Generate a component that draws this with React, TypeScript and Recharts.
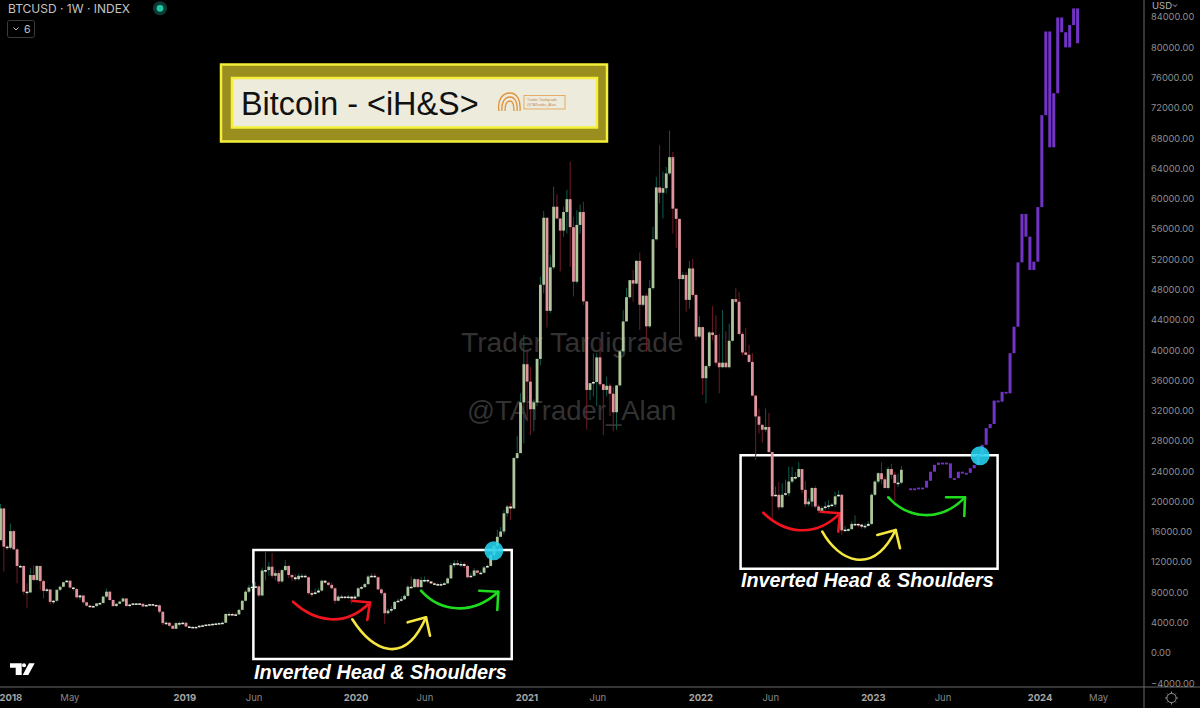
import React from 'react';
import { ComposedChart, Bar, XAxis, YAxis, ReferenceArea, ReferenceDot } from 'recharts';

// weekly candles, BTCUSD from Jan 2018. open = previous close
const closes = [
  19100, 14050, 13900, 16100, 13700, 11500, 11500, 8100, 8000, 10300,
  9650, 11500, 9500, 8200, 8400, 6750, 6900, 8350, 8750, 9350,
  9550, 8650, 8450, 7350, 7600, 6700, 6250, 6150, 6200, 6550,
  6600, 7450, 8100, 7000, 6200, 6500, 6800, 7200, 6200, 6400,
  6550, 6550, 6500, 6150, 6350, 6450, 6350, 6300, 5450, 3950,
  4000, 3600, 3200, 3950, 3950, 4000, 3500, 3450, 3450, 3400,
  3600, 3650, 3750, 3800, 3850, 3900, 3950, 4000, 5150, 5150,
  5100, 5100, 5700, 6900, 8100, 8650, 8750, 8800, 7600, 10900,
  10950, 11400, 10200, 10550, 9450, 10950, 11500, 10300, 10000, 9750,
  10200, 10200, 10000, 7900, 7800, 8000, 8250, 9550, 9300, 9000,
  8550, 6900, 7450, 7450, 7350, 7450, 7200, 7450, 8550, 8700,
  9100, 10100, 10200, 10000, 8400, 7900, 5250, 5600, 5800, 6750,
  6900, 7100, 7550, 8750, 8700, 9750, 8700, 9650, 9650, 9450,
  9200, 9100, 9000, 9100, 9200, 9850, 11600, 11850, 11750, 11750,
  11500, 10000, 10200, 10900, 10600, 10600, 11300, 11500, 12950, 14150,
  15350, 16050, 18450, 19350, 19100, 25750, 26400, 33100, 38150, 35850,
  32200, 33100, 38850, 48650, 57500, 45200, 50950, 58950, 57400, 55800,
  58250, 59950, 56250, 49050, 56550, 58250, 46450, 34750, 35650, 35800,
  39050, 35500, 34750, 35300, 34250, 31800, 35350, 39850, 43800, 47000,
  49250, 48800, 51800, 46000, 47200, 43150, 48200, 54650, 61500, 60800,
  61400, 63350, 65500, 58700, 57350, 49400, 49950, 46650, 50800, 47300,
  41800, 43050, 36300, 37900, 42350, 42000, 38350, 37750, 38350, 37750,
  41250, 46750, 46400, 42150, 39700, 39400, 38450, 34000, 31250, 30150,
  29500, 29850, 26550, 20700, 20900, 19250, 20900, 21100, 22650, 23250,
  23250, 24300, 21550, 19650, 20000, 21800, 19350, 18800, 19150, 19350,
  19500, 19600, 20700, 20900, 16200, 16300, 16350, 17050, 17050, 16950,
  16700, 16800, 17050, 20900, 22650, 23750, 22950, 21800, 24300, 23550,
  22450, 22500, 24200,
];

const highs = [
  19700, 19100, 14300, 17100, 16300, 13800, 11700, 11600, 9200, 11200,
  11600, 11600, 11500, 9700, 8600, 8400, 7000, 8400, 8900, 9400,
  9700, 9600, 8700, 8500, 7700, 7600, 6800, 6400, 6300, 6600,
  6750, 7550, 8500, 8200, 7100, 6600, 6900, 7300, 7250, 6450,
  6600, 6600, 6600, 6550, 6400, 6500, 6500, 6400, 6400, 5500,
  4250, 4100, 3650, 4050, 4150, 4150, 4050, 3550, 3500, 3500,
  3700, 3750, 3800, 3850, 3950, 4000, 4050, 4150, 5300, 5450,
  5350, 5300, 5850, 7000, 8300, 9000, 9200, 9400, 9000, 11300,
  13400, 12000, 13200, 11000, 10950, 11100, 12300, 11600, 10500, 10400,
  10500, 10500, 10400, 10100, 8300, 8500, 8600, 9700, 9600, 9400,
  9300, 8700, 7650, 7700, 7550, 7650, 7550, 7700, 8700, 8900,
  9300, 10300, 10500, 10500, 10100, 8600, 8100, 5900, 6200, 6900,
  7200, 7500, 7750, 9000, 10100, 9900, 9850, 10000, 10100, 9800,
  9450, 9350, 9300, 9350, 9400, 10000, 11900, 12250, 12300, 12050,
  12000, 11650, 10600, 11200, 11000, 10900, 11500, 11700, 13100, 14350,
  16300, 16650, 18900, 19550, 19800, 25900, 28700, 34300, 42000, 40100,
  37800, 33500, 38900, 49700, 58400, 57500, 52600, 61600, 60600, 57400,
  58950, 61200, 64900, 57600, 58500, 59250, 59600, 46200, 35600, 39600,
  39600, 41400, 35600, 36500, 35600, 35200, 35400, 40000, 45300, 48200,
  49300, 50600, 51900, 52900, 47300, 47500, 49300, 56300, 62900, 67100,
  63600, 64200, 69000, 66200, 58600, 57400, 50300, 50300, 51800, 52100,
  47500, 44500, 43100, 38000, 42500, 45800, 44600, 42200, 45300, 42500,
  43500, 46800, 48200, 47700, 42400, 42900, 40700, 39600, 34100, 32300,
  30100, 32300, 31700, 26400, 22000, 22600, 22400, 22900, 24600, 24600,
  23900, 25200, 24300, 22700, 20400, 21900, 22100, 19600, 19400, 20000,
  20200, 19800, 21300, 21500, 21000, 16800, 16500, 17400, 18200, 17200,
  17100, 17100, 17400, 21100, 22800, 23900, 25200, 23300, 24600, 25000,
  23900, 23700, 24700,
];

const lows = [
  14900, 10750, 13600, 13700, 13600, 9200, 11300, 7700, 5900, 7900,
  9500, 9500, 8300, 7200, 8000, 6400, 6500, 6700, 8200, 8700,
  9300, 8500, 8200, 7200, 7000, 6500, 6100, 6000, 6050, 6100,
  6500, 6550, 7300, 6900, 6100, 6100, 6450, 6700, 6150, 6100,
  6300, 6400, 6350, 6050, 6100, 6300, 6300, 6250, 5200, 3650,
  3700, 3450, 3150, 3150, 3550, 3800, 3450, 3350, 3400, 3350,
  3350, 3550, 3650, 3700, 3750, 3850, 3850, 3900, 3950, 5000,
  5000, 5000, 5050, 5650, 6800, 7900, 8500, 8700, 7400, 7500,
  9600, 10200, 9900, 9600, 9100, 9300, 10800, 9900, 9500, 9500,
  9600, 9900, 9900, 7700, 7400, 7700, 7900, 8100, 9100, 8800,
  8400, 6500, 6850, 7200, 7200, 7200, 6500, 7100, 7350, 8400,
  8600, 9000, 10000, 9900, 8300, 7700, 3850, 5100, 5350, 5700,
  6700, 6800, 7000, 7450, 8600, 8600, 8600, 8600, 9300, 9200,
  9100, 9000, 8900, 8900, 9000, 9150, 9800, 11300, 11500, 11350,
  11200, 9900, 10000, 10100, 10500, 10500, 10500, 11200, 11400, 12800,
  13200, 15300, 15700, 18000, 17600, 19000, 25600, 28000, 27700, 30600,
  28800, 29300, 32600, 38000, 47500, 43000, 44900, 50700, 57300, 50400,
  55000, 55400, 51000, 47100, 48800, 55400, 46000, 29500, 33400, 33900,
  32600, 35200, 28800, 33900, 31300, 29300, 29500, 35200, 39700, 44000,
  46800, 46400, 48700, 42700, 45800, 39800, 42900, 48000, 54500, 59400,
  57400, 60700, 63100, 55400, 53500, 41600, 49300, 45100, 45500, 47000,
  41300, 41600, 34100, 33000, 37600, 41300, 38000, 34300, 37600, 37600,
  37600, 41100, 46200, 42000, 39300, 39300, 38300, 33900, 25500, 29000,
  27800, 29200, 26400, 17800, 20700, 18900, 19100, 20700, 20700, 22400,
  22900, 23100, 21100, 19300, 19400, 19300, 19100, 18500, 18700, 18900,
  19000, 19300, 19300, 20600, 15600, 16000, 16050, 16500, 16800, 16600,
  16400, 16400, 16700, 16900, 20700, 22400, 22300, 21700, 21600, 23000,
  20000, 21900, 22300,
];

// purple projection, its bars are a bit wider apart than the weeks
const projWeeks = [
  274.8, 276, 277.2, 278.4, 279.6, 280.8, 282, 283.2, 284.4, 285.6,
  286.8, 288, 289.2, 290.4, 291.6, 292.8, 294, 295.2, 296.4, 297.6,
  298.8, 300, 301.2, 302.4, 303.6, 304.8, 306, 307.2, 308.4, 309.6,
  310.8, 312, 313.2, 314.4, 315.6, 316.8, 318, 319.2, 320.4, 321.6,
  322.8, 324, 325.2,
];
const projCloses = [
  21750, 21750, 21850, 21850, 22750, 23950, 24850, 25150, 25150, 25050,
  23100, 23100, 23950, 23800, 23800, 24400, 24850, 26150, 27500, 29700,
  30250, 33350, 33200, 34500, 34300, 39600, 43100, 51600, 58000, 55000,
  50600, 51700, 58900, 71050, 82100, 66800, 73950, 83950, 82000, 80000,
  82950, 85150, 80550,
];

const yTicks = [
  -4000, 0, 4000, 8000, 12000, 16000, 20000, 24000, 28000, 32000, 36000, 40000,
  44000, 48000, 52000, 56000, 60000, 64000, 68000, 72000, 76000, 80000, 84000,
];
const xTicks = [3.1, 20.9, 55.6, 76.5, 107.3, 128.1, 158.9, 180.3, 211.4, 232.5, 263.5, 284.5, 313.8, 331.5];
const xLabels = ['2018', 'May', '2019', 'Jun', '2020', 'Jun', '2021', 'Jun', '2022', 'Jun', '2023', 'Jun', '2024', 'May'];

const leftBox = { x1: 76.3, x2: 154.3, y1: -790, y2: 13600 };
const rightBox = { x1: 223.4, x2: 301, y1: 11140, y2: 26120 };
const breakouts = [
  { week: 148.9, price: 13500 },
  { week: 295.7, price: 26050 },
];

const candleRows = closes.map((close, i) => ({
  week: i,
  open: i === 0 ? 14900 : closes[i - 1],
  close,
  range: [lows[i], highs[i]],
  proj: false,
}));
const projRows = projCloses.map((close, i) => {
  const open = i === 0 ? 21750 : projCloses[i - 1];
  return { week: projWeeks[i], open, close, range: [Math.min(open, close), Math.max(open, close)], proj: true };
});
const rows = [...candleRows, ...projRows];

const UI_FONT = 'Inter, Roboto, sans-serif';
const SANS = '"Liberation Sans", Arial, sans-serif';

function CandleShape(props: any) {
  const { x, width, y, height, payload } = props;
  const cx = x + width / 2;
  const top = Math.min(y, y + height);
  const h = Math.abs(height);
  const [low, high] = payload.range;
  if (payload.proj) {
    return <rect x={cx - 1.5} y={top} width={3} height={Math.max(h, 1.8)} fill="#7234c6" />;
  }
  const toY = (v: number) => (high === low ? top : top + ((high - v) / (high - low)) * h);
  const up = payload.close >= payload.open;
  const bodyTop = toY(Math.max(payload.open, payload.close));
  const bodyBottom = toY(Math.min(payload.open, payload.close));
  const small = bodyBottom - bodyTop < 2;
  return (
    <g>
      <rect x={cx - 0.5} y={top} width={1} height={h} fill={up ? '#0f5a4b' : '#701c27'} />
      <rect
        x={cx - 1.4}
        y={bodyTop}
        width={2.8}
        height={Math.max(bodyBottom - bodyTop, 1.5)}
        fill={small ? '#ece8dc' : up ? '#afc59a' : '#e0949e'}
      />
    </g>
  );
}

function DateTick(props: any) {
  const { x, y, index } = props;
  const label = xLabels[index];
  const isYear = label.length === 4;
  return (
    <text
      x={x}
      y={y}
      textAnchor="middle"
      dominantBaseline="middle"
      fontFamily={UI_FONT}
      fontSize={9.5}
      fontWeight={isYear ? 700 : 400}
      fill={isYear ? '#a6a6a6' : '#878787'}
    >
      {label}
    </text>
  );
}

function Swoosh({ curve, head, color }: { curve: string; head: string; color: string }) {
  return (
    <g fill="none" stroke={color} strokeWidth={2.6} strokeLinecap="round" strokeLinejoin="round">
      <path d={curve} />
      <path d={head} />
    </g>
  );
}

function PatternLabel({ x, y }: { x: number; y: number }) {
  return (
    <text x={x} y={y} fontFamily={SANS} fontSize={19.8} fontWeight={700} fontStyle="italic" fill="#ffffff">
      Inverted Head &amp; Shoulders
    </text>
  );
}

export default function App() {
  return (
    <div style={{ position: 'absolute', left: 0, top: 0, width: 1200, height: 708, background: '#000', overflow: 'hidden' }}>
      <ComposedChart width={1200} height={708} data={rows} margin={{ top: 0, right: 0, bottom: 0, left: 0 }}>
        <text x={461} y={351.5} fontFamily={SANS} fontSize={28.2} fill="#323232">Trader Tardigrade</text>
        <text x={467} y={419.5} fontFamily={SANS} fontSize={27.5} fill="#323232">@TATrader_Alan</text>
        <XAxis
          dataKey="week"
          type="number"
          domain={[-0.2, 345.2]}
          ticks={xTicks}
          interval={0}
          height={21}
          axisLine={false}
          tickLine={false}
          tickSize={0}
          tickMargin={11}
          tick={DateTick}
        />
        <YAxis
          orientation="right"
          type="number"
          domain={[-4491, 86261]}
          ticks={yTicks}
          interval={0}
          width={56}
          axisLine={false}
          tickLine={false}
          tickSize={0}
          tickMargin={7}
          tick={{ fill: '#8e8e8e', fontSize: 9.3, fontFamily: UI_FONT }}
          tickFormatter={(v: number) => (v < 0 ? `\u2212${Math.abs(v).toFixed(2)}` : v.toFixed(2))}
        />
        <Bar dataKey="range" barSize={3} shape={CandleShape} isAnimationActive={false} />
        <ReferenceArea {...leftBox} fill="none" stroke="#ffffff" strokeWidth={2.5} ifOverflow="visible" />
        <ReferenceArea {...rightBox} fill="none" stroke="#ffffff" strokeWidth={2.5} ifOverflow="visible" />
        {breakouts.map((b) => (
          <ReferenceDot key={b.week} x={b.week} y={b.price} r={9.5} fill="#26d4f0" fillOpacity={0.88} stroke="none" ifOverflow="visible" />
        ))}

        {/* frame lines */}
        <line x1={0} y1={687} x2={1200} y2={687} stroke="#6a6a6a" />
        <line x1={1144} y1={0} x2={1144} y2={708} stroke="#6a6a6a" />

        {/* hand drawn arrows */}
        <Swoosh curve="M293 601.7 C315 622 345 628 370 602.5" head="M351.7 600.7 L370 602.5 L367.3 620" color="#f0141e" />
        <Swoosh curve="M352.3 619.3 C372 650 404 668 426 617.3" head="M407.7 622.3 L426 617.3 L430 635.7" color="#f6e640" />
        <Swoosh curve="M421 590.7 C440 612 472 616 498.3 591.7" head="M479.3 590.7 L498.3 591.7 L497.3 610" color="#1fdc1f" />
        <Swoosh curve="M763.3 512.7 C785 534 815 538 840 513.3" head="M820.7 511.7 L840 513.3 L838.3 531.7" color="#f0141e" />
        <Swoosh curve="M822.3 531.7 C838 560 872 578 895.7 530" head="M877.3 535 L895.7 530 L900 548.3" color="#f6e640" />
        <Swoosh curve="M888.3 497.3 C908 519 940 523 965 497.3" head="M946 497.3 L965 497.3 L964.3 516" color="#1fdc1f" />
        <PatternLabel x={254} y={678.5} />
        <PatternLabel x={741} y={587} />

        {/* title panel */}
        <rect x={221} y={64.5} width={386} height={77} fill="#9a8e1e" stroke="#f4ef3a" strokeWidth={2.5} />
        <rect x={232} y={78} width={365} height={49.5} fill="#ecebdc" stroke="#f4ef3a" strokeWidth={2.5} />
        <text x={241} y={115} fontFamily={SANS} fontSize={32.4} fill="#111111">{'Bitcoin - <iH&S>'}</text>
        <g fill="none" stroke="#e0923a" strokeWidth={1.3}>
          <path d="M499 111 C497 99 503 93 510 93 C517 93 521 100 520 111" />
          <path d="M502 111 C501 102 505 97 510 97 C515 97 518 103 517 111" />
          <path d="M505 111 C505 105 507 101 510 101 C513 101 514 105 514 111" />
          <rect x={524} y={95.5} width={41} height={13.5} strokeWidth={0.7} />
        </g>
        <text x={527} y={100.5} fontFamily={SANS} fontSize={3.8} fill="#c98a4a">Trader Tardigrade</text>
        <text x={527} y={106} fontFamily={SANS} fontSize={3.8} fill="#c98a4a">@TATrader_Alan</text>

        {/* chart header */}
        <text x={8} y={13} fontFamily={UI_FONT} fontSize={12} fill="#c4c4c4">{'BTCUSD \u00b7 1W \u00b7 INDEX'}</text>
        <circle cx={160} cy={8.3} r={7} fill="#0d3a33" />
        <circle cx={160} cy={8.3} r={3.4} fill="#1fc9a6" />
        <rect x={7.5} y={20.5} width={27} height={17} rx={2} fill="none" stroke="#3c3c3c" />
        <path d="M13.5 27.5 L16 30 L18.5 27.5" fill="none" stroke="#c4c4c4" />
        <text x={24} y={33} fontFamily={UI_FONT} fontSize={10.5} fill="#c4c4c4">6</text>
        <text x={1152} y={8.5} fontFamily={UI_FONT} fontSize={9.5} fill="#b4b4b4">USD</text>
        <path d="M1173 4.5 L1175 6.5 L1177 4.5" fill="none" stroke="#b4b4b4" />

        {/* TradingView mark */}
        <path d="M10 663.3 H21.7 V675 H15.7 V667.7 H10 Z" fill="#ffffff" />
        <circle cx={24} cy={665.3} r={2} fill="#ffffff" />
        <path d="M34.7 663.3 L28.3 675 H22.7 L29 663.3 Z" fill="#ffffff" />

        {/* settings */}
        <circle cx={1171.5} cy={698} r={4.6} fill="none" stroke="#9a9a9a" />
        <path d="M1171.5 691.5 V693 M1171.5 703 V704.5 M1165 698 H1166.5 M1176.5 698 H1178 M1167 693.5 L1168 694.5 M1175 701.5 L1176 702.5 M1176 693.5 L1175 694.5 M1168 701.5 L1167 702.5" stroke="#9a9a9a" />
      </ComposedChart>
    </div>
  );
}
